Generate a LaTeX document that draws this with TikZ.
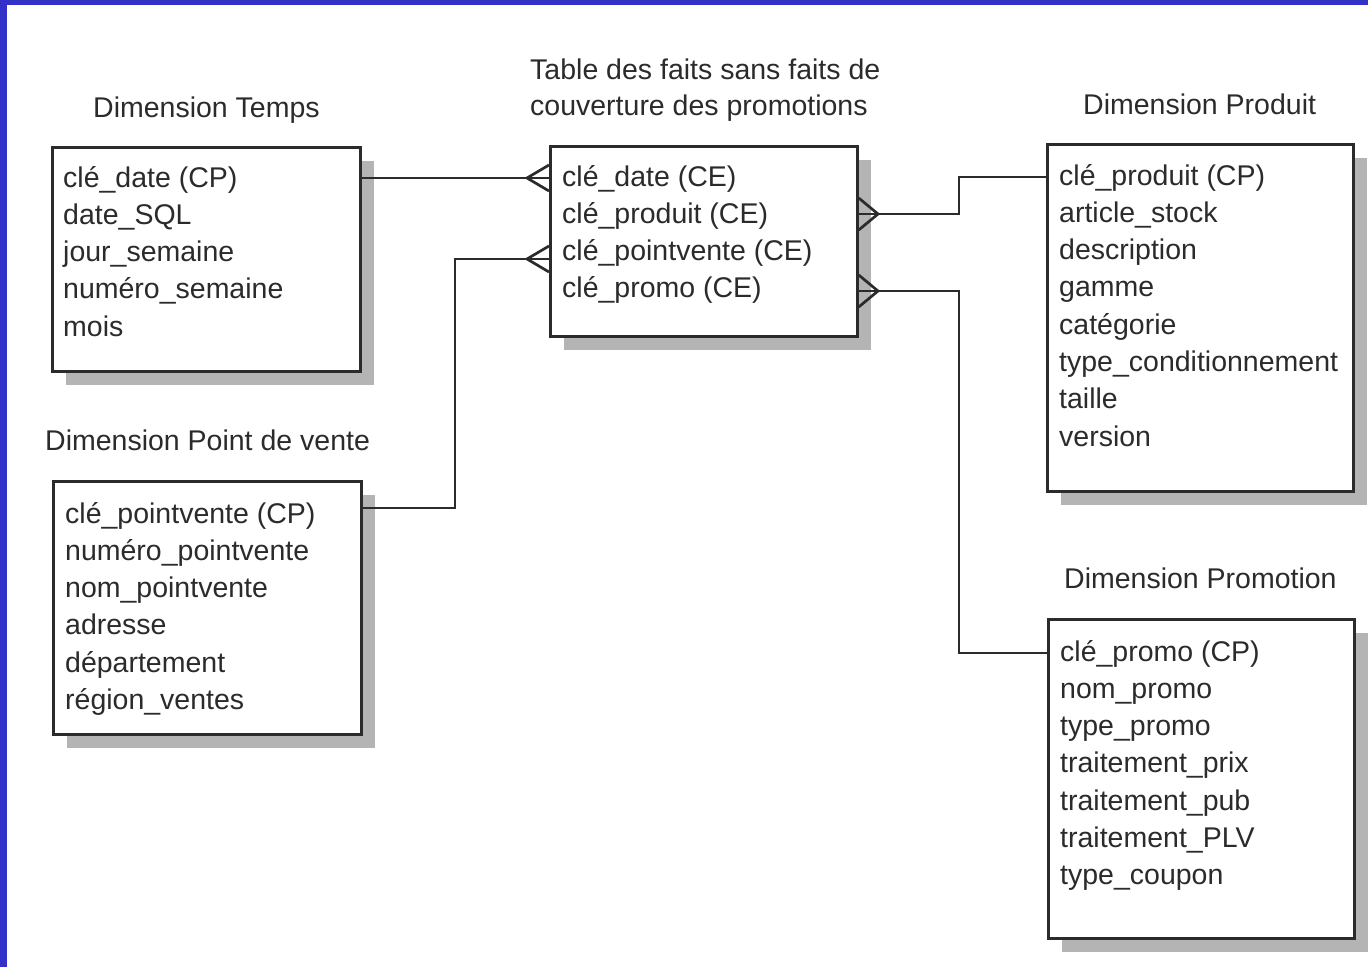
\documentclass[tikz,border=0pt]{standalone}
\usepackage{fontspec}
\setmainfont{Liberation Sans}
\usetikzlibrary{shadows}
\definecolor{ink}{HTML}{2B2B2B}
\definecolor{frameblue}{HTML}{3431C9}
\definecolor{shade}{HTML}{B4B4B4}

% attribute list: lines set on a fixed baseline grid, anchored at the first baseline
\newcommand{\attrlist}[1]{\begin{minipage}[t]{320pt}\fontsize{28.5}{37.3}\selectfont\raggedright #1\end{minipage}}

\begin{document}
\begin{tikzpicture}[x=1pt,y=-1pt,
    tablebox/.style={draw=ink, line width=2.7pt, fill=white, inner sep=0pt,
      anchor=north west,
      drop shadow={shadow xshift=14pt, shadow yshift=-14pt, fill=shade, opacity=1}},
    attrs/.style={anchor=base west, inner sep=0pt, text=ink},
    title/.style={anchor=base west, inner sep=0pt, text=ink, font=\fontsize{28.5}{36}\selectfont, align=left},
    link/.style={draw=ink, line width=2.7pt, line join=miter}]

  % page and frame
  \useasboundingbox (0,0) rectangle (1368,967);
  \fill[white] (0,0) rectangle (1368,967);
  \fill[frameblue] (0,0) rectangle (7,967);
  \fill[frameblue] (0,0) rectangle (1368,5);

  % tables
  \node[tablebox, minimum width=308pt, minimum height=224pt] (temps) at (51,146) {};
  \node[tablebox, minimum width=308pt, minimum height=253pt] (pdv) at (52,480) {};
  \node[tablebox, minimum width=307pt, minimum height=190pt] (fact) at (549,145) {};
  \node[tablebox, minimum width=306pt, minimum height=347pt] (produit) at (1046,143) {};
  \node[tablebox, minimum width=306pt, minimum height=319pt] (promo) at (1047,618) {};

  % titles (a two-line title is anchored at the baseline of its last line)
  \node[title] (ttemps) at (93,117) {Dimension Temps};
  \node[title] (tfact) at (530,115) {Table des faits sans faits de\\couverture des promotions};
  \node[title] (tproduit) at (1083,114) {Dimension Produit};
  \node[title] (tpdv) at (45,450) {Dimension Point de vente};
  \node[title] (tpromo) at (1064,588) {Dimension Promotion};

  % attributes
  \node[attrs] (atemps) at (63,187) {\attrlist{clé\_date (CP)\\date\_SQL\\jour\_semaine\\numéro\_semaine\\mois}};
  \node[attrs] (afact) at (562,186) {\attrlist{clé\_date (CE)\\clé\_produit (CE)\\clé\_pointvente (CE)\\clé\_promo (CE)}};
  \node[attrs] (aproduit) at (1059,185) {\attrlist{clé\_produit (CP)\\article\_stock\\description\\gamme\\catégorie\\type\_conditionnement\\taille\\version}};
  \node[attrs] (apdv) at (65,523) {\attrlist{clé\_pointvente (CP)\\numéro\_pointvente\\nom\_pointvente\\adresse\\département\\région\_ventes}};
  \node[attrs] (apromo) at (1060,661) {\attrlist{clé\_promo (CP)\\nom\_promo\\type\_promo\\traitement\_prix\\traitement\_pub\\traitement\_PLV\\type\_coupon}};

  % crow's-foot tips and bends
  \coordinate (c1) at (527,178);
  \coordinate (c2) at (527,259);
  \coordinate (j2) at (455,259);
  \coordinate (c3) at (878,214);
  \coordinate (j3) at (959,214);
  \coordinate (c4) at (878,291);
  \coordinate (j4) at (959,291);

  % Temps -> faits
  \draw[link] (temps.east |- c1) -- (fact.west |- c1);
  \draw[link] (fact.west |- 0,165) -- (c1) -- (fact.west |- 0,191);

  % Point de vente -> faits
  \draw[link] (pdv.east |- 0,508) -| (j2) -- (fact.west |- c2);
  \draw[link] (fact.west |- 0,246) -- (c2) -- (fact.west |- 0,272);

  % faits -> Produit
  \draw[link] (fact.east |- c3) -- (j3) |- (produit.west |- 0,177);
  \draw[link] (fact.east |- 0,198) -- (c3) -- (fact.east |- 0,230);

  % faits -> Promotion
  \draw[link] (fact.east |- c4) -- (j4) |- (promo.west |- 0,653);
  \draw[link] (fact.east |- 0,275) -- (c4) -- (fact.east |- 0,307);
\end{tikzpicture}
\end{document}
